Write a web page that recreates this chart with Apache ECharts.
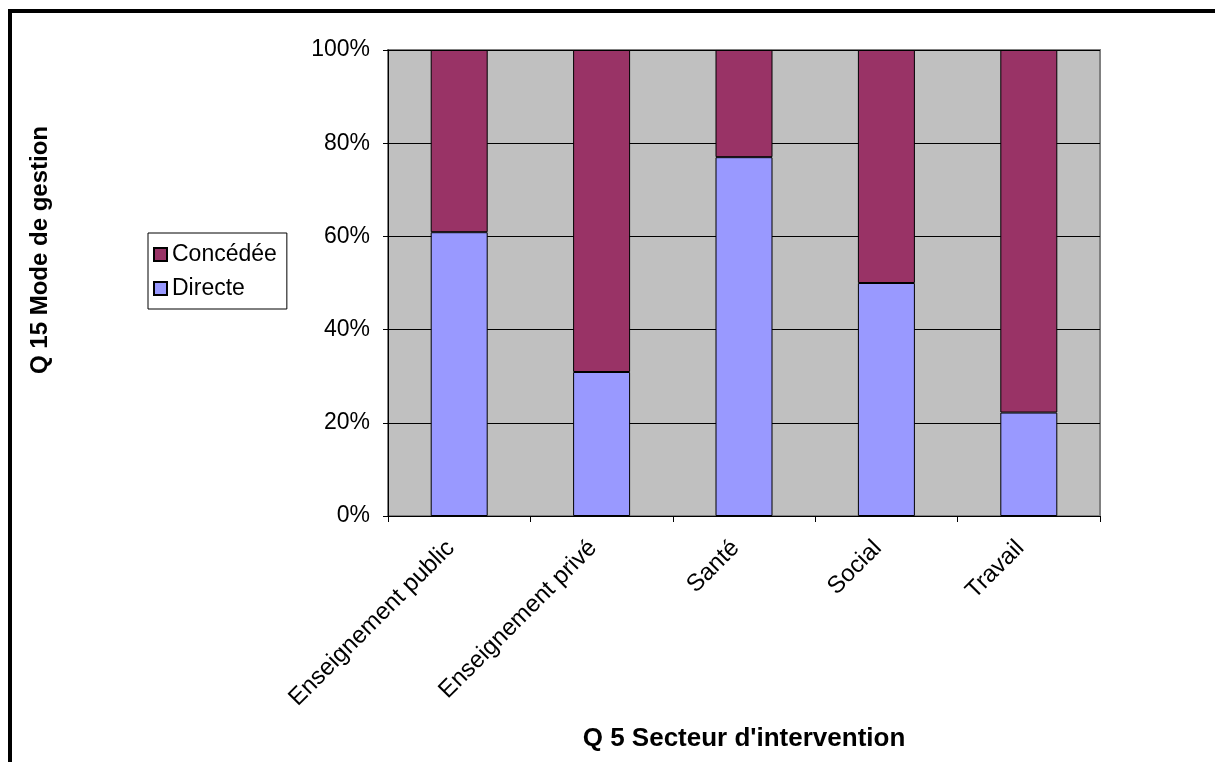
<!DOCTYPE html>
<html>
<head>
<meta charset="utf-8">
<script src="https://cdn.jsdelivr.net/npm/echarts@6/dist/echarts.min.js"></script>
<style>
  html, body { margin: 0; padding: 0; background: #fff; }
  #chart { width: 1215px; height: 762px; }
</style>
</head>
<body>
<div id="chart"></div>
<script>
  var categories = ['Enseignement public', 'Enseignement privé', 'Santé', 'Social', 'Travail'];
  var directe = [60.9, 30.9, 77.0, 50.0, 22.2];
  var concedee = [39.1, 69.1, 23.0, 50.0, 77.8];
  var yTicks = [0, 20, 40, 60, 80, 100];

  var font = 'Liberation Sans, Arial, sans-serif';
  var myChart = echarts.init(document.getElementById('chart'));

  myChart.setOption({
    animation: false,
    backgroundColor: '#fff',
    textStyle: { fontFamily: font, color: '#000' },
    // outer frame (top and left edges only are visible)
    graphic: [
      { type: 'rect', shape: { x: 8, y: 9, width: 1207, height: 4 }, style: { fill: '#000' } },
      { type: 'rect', shape: { x: 8, y: 9, width: 4, height: 753 }, style: { fill: '#000' } }
    ],
    legend: {
      orient: 'vertical',
      left: 148,
      top: 233,
      padding: [10, 10, 9, 5],
      itemGap: 11,
      itemWidth: 13,
      itemHeight: 13,
      icon: 'rect',
      borderColor: '#000',
      borderWidth: 1,
      data: ['Concédée', 'Directe'],
      textStyle: { fontFamily: font, fontSize: 23, color: '#000', padding: [0, 0, 0, 0] }
    },
    grid: {
      left: 388,
      top: 50,
      width: 712,
      height: 466,
      outerBoundsMode: 'none',
      show: true,
      backgroundColor: '#C0C0C0',
      borderColor: '#808080',
      borderWidth: 2
    },
    xAxis: {
      type: 'category',
      data: categories,
      name: "Q 5 Secteur d'intervention",
      nameLocation: 'middle',
      nameGap: 210,
      nameTextStyle: { fontFamily: font, fontSize: 26, fontWeight: 'bold', color: '#000' },
      axisLine: { lineStyle: { color: '#000', width: 1 } },
      axisTick: { show: true, length: 6, lineStyle: { color: '#000' } },
      axisLabel: { interval: 0, rotate: 45, margin: 20, fontFamily: font, fontSize: 24, color: '#000', padding: [0, 12, 0, 0] }
    },
    yAxis: {
      type: 'value',
      min: yTicks[0],
      max: yTicks[yTicks.length - 1],
      interval: 20,
      name: 'Q 15 Mode de gestion',
      nameLocation: 'middle',
      nameGap: 336,
      nameRotate: 90,
      nameTextStyle: { fontFamily: font, fontSize: 24, fontWeight: 'bold', color: '#000', padding: [0, 0, 0, 66] },
      axisLine: { show: true, lineStyle: { color: '#000', width: 1 } },
      axisTick: { show: true, length: 5, lineStyle: { color: '#000' } },
      axisLabel: { formatter: '{value}%', margin: 18, fontFamily: font, fontSize: 23, color: '#000' },
      splitLine: { show: true, lineStyle: { color: '#000', width: 1 } }
    },
    series: [
      {
        name: 'Directe',
        type: 'bar',
        stack: 'total',
        barWidth: 57,
        data: directe,
        itemStyle: { color: '#9999FF', borderColor: '#000', borderWidth: 1 }
      },
      {
        name: 'Concédée',
        type: 'bar',
        stack: 'total',
        barWidth: 57,
        data: concedee,
        itemStyle: { color: '#993366', borderColor: '#000', borderWidth: 1 }
      }
    ]
  });
</script>
</body>
</html>
